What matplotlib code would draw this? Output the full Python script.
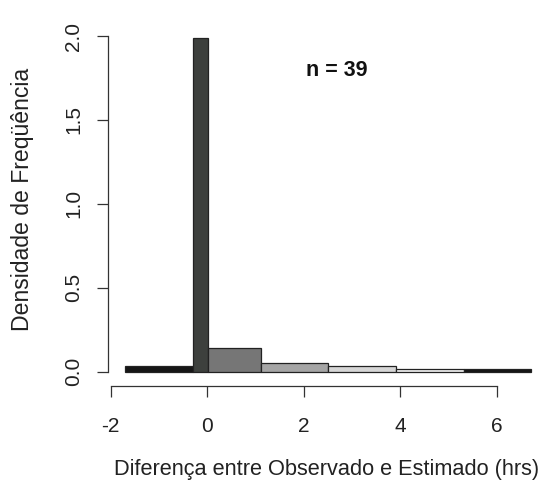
import numpy as np
import matplotlib; matplotlib.use("Agg")
import matplotlib.pyplot as plt

plt.rcParams["font.family"] = ["Liberation Sans", "DejaVu Sans"]

# histogram (density scale, n = 39)
bin_edges = [-1.70, -0.29, 0.02, 1.11, 2.51, 3.91, 5.31, 6.71]
densities = [0.036, 1.99, 0.14, 0.054, 0.035, 0.018, 0.018]
bar_colors = ["#151515", "#3d403d", "#767676", "#a5a5a5", "#d6d6d6", "#efefef", "#151515"]
x_ticks = [-2, 0, 2, 4, 6]
y_ticks = [0.0, 0.5, 1.0, 1.5, 2.0]
n_obs = 39

fig = plt.figure(figsize=(5.47, 4.88), dpi=100)
ax = fig.add_axes([0.198, 0.209, 0.798, 0.7295])

edges = np.array(bin_edges)
ax.bar(edges[:-1], densities, width=np.diff(edges), align="edge",
       color=bar_colors, edgecolor="#222222", linewidth=0.9)

ax.set_xlim(-2.05, 6.99)
ax.set_ylim(-0.085, 2.036)
ax.set_xticks(x_ticks)
ax.set_xticklabels([f"{t:d}" for t in x_ticks])
ax.set_yticks(y_ticks)
ax.set_yticklabels([f"{t:.1f}" for t in y_ticks])

for s in ["top", "right"]:
    ax.spines[s].set_visible(False)
ax.spines["left"].set_bounds(0, 2)
ax.spines["bottom"].set_bounds(-2, 6)
for s in ["left", "bottom"]:
    ax.spines[s].set_color("#333333")
    ax.spines[s].set_linewidth(0.9)

ax.tick_params(axis="both", length=8, width=0.9, color="#333333",
               labelsize=15, labelcolor="#222222")
ax.tick_params(axis="x", pad=14)
ax.tick_params(axis="y", pad=10, labelrotation=90)
for lab in ax.get_yticklabels():
    lab.set_va("center")

fig.text(327 / 547, 1 - 469 / 488, "Diferença entre Observado e Estimado (hrs)",
         ha="center", va="center", fontsize=15.7, color="#222222")
fig.text(23 / 547, 1 - 199 / 488, "Densidade de Freqüência", rotation=90,
         ha="center", va="center", fontsize=16.6, color="#222222")
fig.text(337 / 547, 1 - 71 / 488, f"n = {n_obs}", ha="center", va="center",
         fontsize=15.5, fontweight="bold", color="#111111")

fig.savefig("out.png", dpi=100)
